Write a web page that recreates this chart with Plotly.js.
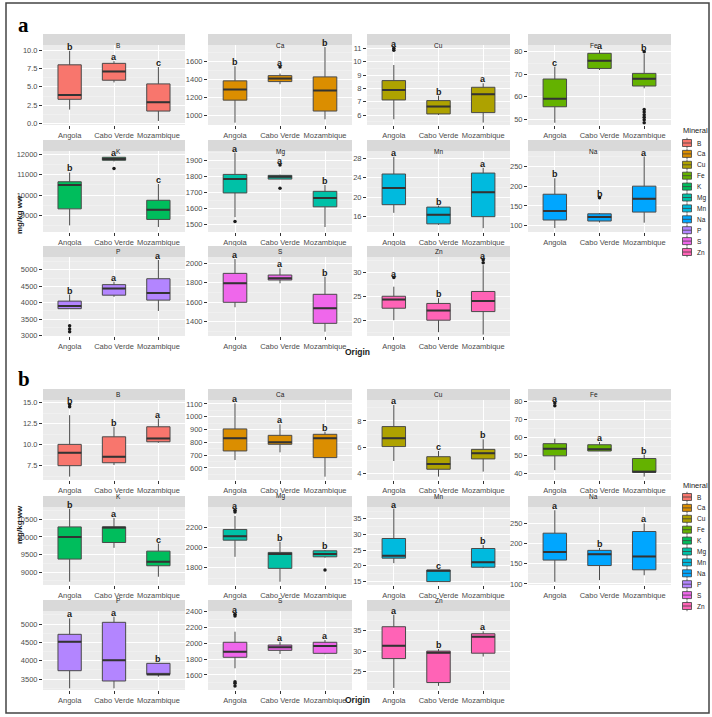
<!DOCTYPE html>
<html>
<head>
<meta charset="utf-8">
<script src="https://cdn.plot.ly/plotly-3.0.1.min.js"></script>
<style>body{margin:0;background:#fff}</style>
</head>
<body>
<div id="chart" style="width:712px;height:717px"></div>
<script>
var origins = ['Angola', 'Cabo Verde', 'Mozambique'];
var minerals = ['B', 'Ca', 'Cu', 'Fe', 'K', 'Mg', 'Mn', 'Na', 'P', 'S', 'Zn'];
var colors = ['#F8766D', '#DB8E00', '#AEA200', '#64B200', '#00BD5C', '#00C1A7',
              '#00BADE', '#00A6FF', '#B385FF', '#EF67EB', '#FF63B6'];

// panel a - box stats per mineral, [Angola, Cabo Verde, Mozambique]
var aLow  = [[1.9, 5.6, 0.35], [923, 1350, 960], [5.68, 6.0, 5.43], [48.5, 71.9, 63.8], [8517, 11650, 8436], [1547, 1783, 1486],
             [16.7, 14.2, 13.5], [94, 108, 107.6], [3820, 4180, 3750], [1549, 1795, 1298], [20, 17.5, 17]];
var aQ1   = [[3.3, 5.9, 1.7], [1173, 1379, 1052], [7.13, 6.08, 6.18], [55.6, 72.6, 64.8], [9327, 11708, 8809], [1697, 1783, 1611],
             [18.4, 14.4, 15.9], [114.3, 111.8, 134.4], [3820, 4230, 4080], [1600, 1829, 1384], [22.5, 20, 21.8]];
var aMed  = [[3.9, 7.1, 2.9], [1291, 1412, 1280], [7.88, 6.63, 7.55], [59.2, 76.0, 68.0], [10493, 11773, 9278], [1783, 1797, 1666],
             [21.9, 16.3, 21.0], [137, 122, 168], [3900, 4430, 4300], [1795, 1846, 1538], [24.3, 22, 24]];
var aQ3   = [[8.0, 8.2, 5.4], [1387, 1445, 1431], [8.58, 7.08, 8.08], [67.9, 79.3, 70.4], [10655, 11854, 9748], [1812, 1806, 1707],
             [24.8, 17.9, 25.0], [179.6, 130, 200], [4050, 4550, 4730], [1897, 1880, 1682], [25, 23.5, 26]];
var aHigh = [[9.9, 8.5, 7.7], [1549, 1468, 1762], [9.75, 7.45, 8.38], [73.4, 80.7, 79.0], [11109, 11880, 10542], [1947, 1810, 1746],
             [28.4, 18.2, 26.1], [220, 132, 275], [4250, 4640, 5300], [2044, 1949, 1863], [27, 24.6, 31.5]];
var aOut  = [[[], [], []], [[], [1541], []], [[10.85, 11.0], [], []], [[], [], [80, 54.4, 53.3, 52.1, 50.9, 49.8, 48.5]],
             [[], [11303], []], [[1520], [1871, 1726], []], [[], [], []], [[], [170.4], []],
             [[3300, 3200, 3120], [], []], [[], [], []], [[28.9], [], [32.0, 32.6]]];
var aLetters = [['b','a','c'], ['b','a','b'], ['a','b','a'], ['c','a','b'], ['b','a','c'], ['a','a','b'],
                ['a','b','a'], ['b','b','a'], ['b','a','a'], ['a','a','b'], ['a','b','a']];

// panel b
var bLow  = [[6.2, 7.58, 10.22], [662, 722, 532], [4.94, 3.75, 4.13], [41.8, 52.5, 38.2], [8729, 9690, 8870], [1908, 1664, 1900],
             [20.8, 14.9, 19.2], [105.4, 109.5, 121.5], [3250, 3250, 3567], [1684, 1865, 1861], [21.1, 21.6, 28.7]];
var bQ1   = [[7.5, 7.85, 10.34], [733, 785, 681], [6.04, 4.31, 5.1], [49.8, 52.5, 40.6], [9370, 9841, 9181], [2071, 1795, 1908],
             [22.4, 14.9, 19.5], [159, 145.5, 135], [3730, 3450, 3630], [1823, 1911, 1873], [28.2, 22.4, 29.5]];
var bMed  = [[9.04, 8.56, 10.74], [832, 800, 832], [6.68, 4.71, 5.53], [53.8, 53.5, 40.9], [10000, 10265, 9294], [2110, 1935, 1935],
             [23.2, 18.4, 21.1], [179, 173.6, 168], [4520, 4012, 3630], [1894, 1949, 1966], [31.3, 29.6, 33.5]];
var bQ3   = [[10.03, 10.93, 12.12], [905, 855, 863], [7.57, 5.27, 5.83], [56.6, 56.0, 48.3], [10283, 10283, 9596], [2176, 1951, 1967],
             [28.7, 18.6, 25.5], [225.4, 183, 229.5], [4720, 5046, 3930], [2013, 1978, 2013], [35.9, 30.0, 34.2]];
var bHigh = [[13.5, 12.12, 13.1], [1105, 941, 884], [9.22, 5.71, 6.6], [59.4, 57.5, 50.5], [10802, 10537, 9812], [2308, 2055, 1975],
             [38.3, 18.7, 26.6], [282, 189, 249.5], [5155, 5200, 3930], [2147, 2020, 2042], [38.8, 30.5, 34.8]];
var bOut  = [[[14.49, 14.76], [], []], [[], [], []], [[], [], []], [[77.8, 79.3], [], []],
             [[], [], []], [[2347, 2364], [], [1778]], [[], [], []], [[], [], []],
             [[], [], []], [[2346, 2367, 1514, 1494, 1460], [], []], [[], [], []]];
var bLetters = [['b','b','a'], ['a','a','b'], ['a','c','b'], ['a','a','b'], ['b','a','c'], ['a','b','b'],
                ['a','c','b'], ['a','b','a'], ['a','a','b'], ['a','a','a'], ['a','b','a']];

// axis settings
var aRanges = [[-0.2, 10.7], [897, 1785], [5.25, 11.25], [47.5, 83], [8193, 12162], [1455, 1957],
               [12.7, 29.6], [84, 289], [2990, 5390], [1254, 2065], [16.7, 33.2]];
var aDtick = [2.5, 200, 1, 10, 1000, 100, 4, 50, 500, 200, 5];
var bRanges = [[5.8, 15.3], [506, 1131], [3.49, 9.6], [36.3, 81], [8635, 10848], [1632, 2396],
               [13.8, 38.8], [97.5, 290], [3205, 5354], [1409, 2409], [20.6, 39.7]];
var bDtick = [2.5, 100, 2, 10, 500, 200, 5, 50, 500, 200, 5];

var W = 712, H = 717;
var FONT = 'Liberation Sans, Arial, sans-serif';
var colsX = [[43, 185], [208, 352], [367, 510], [528, 671]];
var rowsA = [[45, 125], [151, 232], [257, 336]];
var rowsB = [[400, 480], [507, 585], [611, 690]];
function px(x) { return x / W; }
function py(y) { return 1 - y / H; }

var data = [], annotations = [], shapes = [];
var layout = {
  width: W, height: H,
  margin: {l: 0, r: 0, t: 0, b: 0},
  paper_bgcolor: '#ffffff',
  plot_bgcolor: '#EBEBEB',
  font: {family: FONT, color: '#1a1a1a'},
  showlegend: false,
  boxgap: 0.25,
  hovermode: false
};

function addPanel(k0, rows, low, q1, med, q3, high, out, letters, ranges, dticks) {
  minerals.forEach(function (m, i) {
    var k = k0 + i, id = k === 0 ? '' : String(k + 1);
    var row = rows[Math.floor(i / 4)], col = colsX[i % 4];
    layout['xaxis' + id] = {
      domain: [px(col[0]), px(col[1])], anchor: 'y' + id,
      type: 'category', categoryorder: 'array', categoryarray: origins,
      range: [-0.6, 2.6], showgrid: true, gridcolor: '#ffffff', gridwidth: 1,
      zeroline: false, showline: false, ticks: 'outside', ticklen: 3, tickcolor: '#333333',
      tickangle: 0, tickfont: {size: 7.5, color: '#4d4d4d', family: FONT}, fixedrange: true
    };
    layout['yaxis' + id] = {
      domain: [py(row[1]), py(row[0])], anchor: 'x' + id,
      range: ranges[i], tick0: 0, dtick: dticks[i], tickformat: dticks[i] === 2.5 ? '.1f' : 'd',
      showgrid: true, gridcolor: '#ffffff', gridwidth: 1,
      minor: {tick0: 0, dtick: dticks[i] / 2, showgrid: true, gridcolor: '#f6f6f6', gridwidth: 0.5},
      zeroline: false, showline: false, ticks: 'outside', ticklen: 3, tickcolor: '#333333',
      tickfont: {size: 7.5, color: '#4d4d4d', family: FONT}, fixedrange: true
    };
    data.push({
      type: 'box', x: origins, q1: q1[i], median: med[i], q3: q3[i],
      lowerfence: low[i], upperfence: high[i],
      xaxis: 'x' + id, yaxis: 'y' + id,
      fillcolor: colors[i], line: {color: '#4a4a4a', width: 1},
      whiskerwidth: 0, boxpoints: false, hoverinfo: 'skip', showlegend: false
    });
    // thicker median bar, like ggplot's fattened median
    data.push({
      type: 'box', x: origins, q1: med[i], median: med[i], q3: med[i],
      lowerfence: med[i], upperfence: med[i],
      xaxis: 'x' + id, yaxis: 'y' + id,
      fillcolor: 'rgba(0,0,0,0)', line: {color: '#333333', width: 2},
      whiskerwidth: 0, boxpoints: false, hoverinfo: 'skip', showlegend: false
    });
    var ox = [], oy = [];
    out[i].forEach(function (list, j) {
      list.forEach(function (v) { ox.push(origins[j]); oy.push(v); });
    });
    if (ox.length) {
      data.push({
        type: 'scatter', mode: 'markers', x: ox, y: oy, xaxis: 'x' + id, yaxis: 'y' + id,
        marker: {size: 3.5, color: '#1a1a1a'}, hoverinfo: 'skip', showlegend: false
      });
    }
    origins.forEach(function (o, j) {
      var top = Math.max.apply(null, [high[i][j]].concat(out[i][j]));
      annotations.push({
        xref: 'x' + id, yref: 'y' + id, x: o, y: top, yanchor: 'bottom', yshift: -3,
        text: '<b>' + letters[i][j] + '</b>', showarrow: false,
        font: {size: 9, color: '#1a1a1a', family: FONT}
      });
    });
    // facet strip
    shapes.push({
      type: 'rect', xref: 'paper', yref: 'paper',
      x0: px(col[0]), x1: px(col[1]), y0: py(row[0]), y1: py(row[0] - 11),
      fillcolor: '#D9D9D9', line: {width: 0}
    });
    annotations.push({
      xref: 'paper', yref: 'paper', x: px((col[0] + col[1]) / 2), y: py(row[0] - 5.5),
      text: m, showarrow: false, font: {size: 6.5, color: '#1a1a1a', family: FONT}
    });
  });
}

function addLegend(top) {
  annotations.push({
    xref: 'paper', yref: 'paper', x: px(681), y: py(top), xanchor: 'left', yanchor: 'middle',
    text: 'Mineral', showarrow: false, font: {size: 7.5, color: '#1a1a1a', family: FONT}
  });
  minerals.forEach(function (m, i) {
    var cy = top + 12 + i * 10.9;
    shapes.push({type: 'line', xref: 'paper', yref: 'paper', x0: px(687), x1: px(687),
      y0: py(cy - 5.2), y1: py(cy + 5.2), line: {color: '#404040', width: 0.8}});
    shapes.push({type: 'rect', xref: 'paper', yref: 'paper', x0: px(682.5), x1: px(691.5),
      y0: py(cy - 3.5), y1: py(cy + 3.5), fillcolor: colors[i], line: {color: '#404040', width: 0.8}});
    shapes.push({type: 'line', xref: 'paper', yref: 'paper', x0: px(682.5), x1: px(691.5),
      y0: py(cy), y1: py(cy), line: {color: '#404040', width: 0.8}});
    annotations.push({
      xref: 'paper', yref: 'paper', x: px(695), y: py(cy), xanchor: 'left', yanchor: 'middle',
      text: m, showarrow: false, font: {size: 6.5, color: '#1a1a1a', family: FONT}
    });
  });
}

addPanel(0, rowsA, aLow, aQ1, aMed, aQ3, aHigh, aOut, aLetters, aRanges, aDtick);
addPanel(11, rowsB, bLow, bQ1, bMed, bQ3, bHigh, bOut, bLetters, bRanges, bDtick);
addLegend(131);
addLegend(485);

// panel labels, axis titles
[['a', 11], ['b', 379]].forEach(function (p) {
  annotations.push({xref: 'paper', yref: 'paper', x: px(16), y: py(p[1]), text: '<b>' + p[0] + '</b>',
    showarrow: false, font: {size: 21, color: '#000000', family: 'Liberation Serif, Times New Roman, serif'}});
});
[[352, 193], [707, 546]].forEach(function (p) {
  annotations.push({xref: 'paper', yref: 'paper', x: px(357), y: py(p[0]), text: '<b>Origin</b>',
    showarrow: false, font: {size: 8.5, color: '#1a1a1a', family: FONT}});
  annotations.push({xref: 'paper', yref: 'paper', x: px(13), y: py(p[1]), text: '<b>mg/kg ww</b>',
    textangle: -90, showarrow: false, font: {size: 8, color: '#1a1a1a', family: FONT}});
});

// outer frame
shapes.push({type: 'rect', xref: 'paper', yref: 'paper', x0: px(6), x1: px(709), y0: py(713), y1: py(3),
  line: {color: '#444444', width: 1.5}, fillcolor: 'rgba(0,0,0,0)'});

layout.annotations = annotations;
layout.shapes = shapes;

Plotly.newPlot('chart', data, layout, {displayModeBar: false, staticPlot: true});
</script>
</body>
</html>
